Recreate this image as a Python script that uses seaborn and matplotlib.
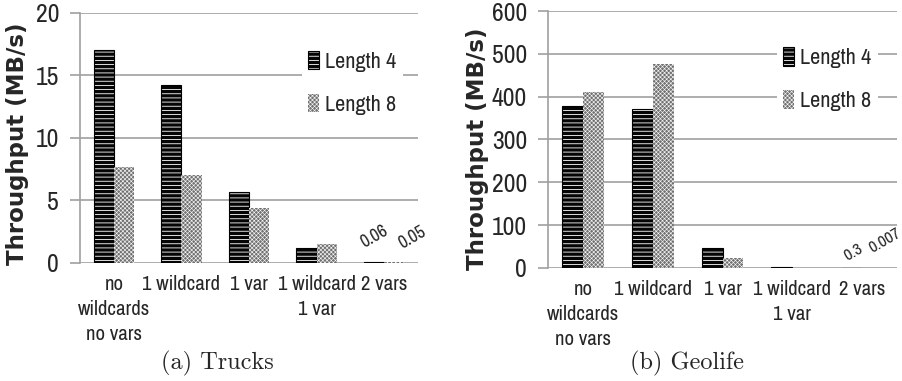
import matplotlib
matplotlib.use("Agg")
import matplotlib.pyplot as plt
from matplotlib import font_manager
from matplotlib.patches import Patch
from matplotlib.colors import to_rgba
import seaborn as sns
import pandas as pd

# ---- data -------------------------------------------------------------
categories = ["no\nwildcards\nno vars", "1 wildcard", "1 var", "1 wildcard\n1 var", "2 vars"]
series = ["Length 4", "Length 8"]

trucks_len4 = [17.0, 14.2, 5.7, 1.2, 0.06]
trucks_len8 = [7.7, 7.0, 4.4, 1.5, 0.05]

geolife_len4 = [378, 370, 46, 1.0, 0.3]
geolife_len8 = [410, 476, 23, 0.2, 0.007]

trucks_labels = {(4, 0): "0.06", (4, 1): "0.05"}
geolife_labels = {(4, 0): "0.3", (4, 1): "0.007"}

captions = ["(a) Trucks", "(b) Geolife"]
ylabel = "Throughput (MB/s)"
trucks_ticks = [0, 5, 10, 15, 20]
geolife_ticks = [0, 100, 200, 300, 400, 500, 600]

# ---- fonts ------------------------------------------------------------
sns.set_theme(style="white")

ttf = font_manager.fontManager.ttflist
narrow_family = None
narrow_stretch = "normal"
for f in ttf:
    if any(k in f.name for k in ("Narrow", "Condensed")):
        narrow_family = f.name
        break
if narrow_family is None:
    for f in ttf:
        if f.stretch in ("condensed", "semi-condensed", 300, 400) and \
                f.name in ("Noto Sans", "DejaVu Sans", "Open Sans", "Roboto"):
            narrow_family = f.name
            narrow_stretch = "condensed"
            break
if narrow_family is None:
    narrow_family = "Lato"
    SHRINK = 0.85
else:
    SHRINK = 1.0

plt.rcParams["font.family"] = [narrow_family, "DejaVu Sans"]
plt.rcParams["font.stretch"] = narrow_stretch

GRID = "#a0a0a0"
STYLES = [
    dict(face="#050505", hatch="----", hatch_color="white", edge="#000000", lw=0.8, hlw=0.6),
    dict(face="#707070", hatch="xxxxxxxx", hatch_color="#f4f4f4", edge="none", lw=0.0, hlw=0.45),
]


def style_patch(p, st):
    p.set_facecolor(st["face"])
    p.set_edgecolor(st["edge"])
    p.set_linewidth(st["lw"])
    p.set_hatch(st["hatch"])
    p._hatch_color = to_rgba(st["hatch_color"])
    p._hatch_linewidth = st["hlw"]


def frame(len4, len8):
    rows = []
    for c, a, b in zip(categories, len4, len8):
        rows.append({"category": c, "series": series[0], "value": a})
        rows.append({"category": c, "series": series[1], "value": b})
    return pd.DataFrame(rows)


def draw(ax, len4, len8, ticks, labels, label_dx, label_dy, legend_anchor, ylabel_xy,
         label_size=13):
    df = frame(len4, len8)
    sns.barplot(data=df, x="category", y="value", hue="series", order=categories,
                hue_order=series, width=0.6, ax=ax, legend=False,
                palette=["black", "white"], errorbar=None)
    for j, cont in enumerate(ax.containers):
        for p in cont.patches:
            style_patch(p, STYLES[j])
            p.set_zorder(3)
    # value labels on the tiniest bars
    for (i, j), txt in labels.items():
        p = ax.containers[j].patches[i]
        ax.annotate(txt, (p.get_x() + p.get_width() / 2, p.get_height()),
                    xytext=(label_dx[j], label_dy[j]), textcoords="offset points",
                    ha="center", va="bottom", rotation=30, fontsize=label_size * SHRINK,
                    zorder=5, annotation_clip=False)
    ax.set_ylim(ticks[0], ticks[-1])
    ax.set_yticks(ticks)
    ax.set_xlim(-0.5, len(categories) - 0.5)
    ax.yaxis.grid(True, color=GRID, linewidth=1.2, zorder=0)
    ax.set_axisbelow(True)
    for s in ["top", "right", "bottom"]:
        ax.spines[s].set_visible(False)
    ax.spines["left"].set_color(GRID)
    ax.spines["left"].set_linewidth(1.2)
    ax.tick_params(axis="y", which="both", left=True, length=7, width=1.2,
                   color=GRID, labelsize=18.5 * SHRINK, pad=8)
    ax.tick_params(axis="x", bottom=False, labelsize=15 * SHRINK, pad=3)
    for t in ax.get_xticklabels():
        t.set_linespacing(1.38)
    ax.set_xlabel("")
    ax.set_ylabel(ylabel, fontsize=16.5, fontweight="bold", family="DejaVu Sans")
    ax.yaxis.set_label_coords(*ylabel_xy)
    handles = []
    for st, name in zip(STYLES, series):
        h = Patch(facecolor=st["face"], edgecolor=st["hatch_color"], hatch=st["hatch"],
                  linewidth=0, label=name)
        handles.append(h)
    leg = ax.legend(handles=handles, loc="upper right", bbox_to_anchor=legend_anchor,
                    frameon=True, fontsize=16 * SHRINK, handlelength=0.5, handleheight=0.9,
                    handletextpad=0.25, labelspacing=1.0, borderpad=0.3,
                    borderaxespad=0)
    leg.get_frame().set_facecolor("white")
    leg.get_frame().set_edgecolor("none")
    leg.get_frame().set_alpha(1)
    leg.set_zorder(4)
    for h, st in zip(leg.legend_handles, STYLES):
        h._hatch_color = to_rgba(st["hatch_color"])
        h._hatch_linewidth = st["hlw"]
        if st["edge"] != "none":
            h.set_edgecolor(st["edge"])
            h._hatch_color = to_rgba(st["hatch_color"])
            h.set_linewidth(0.8)


fig = plt.figure(figsize=(9.02, 3.81), dpi=100)
ax1 = fig.add_axes([0.0887, 0.310, 0.3747, 0.656])
ax2 = fig.add_axes([0.6075, 0.297, 0.3870, 0.674])

draw(ax1, trucks_len4, trucks_len8, trucks_ticks, trucks_labels,
     label_dx=[0, 13], label_dy=[8, 8], legend_anchor=(0.955, 0.875),
     ylabel_xy=(-0.15, 0.478))
draw(ax2, geolife_len4, geolife_len8, geolife_ticks, geolife_labels,
     label_dx=[1, 9], label_dy=[3, 9], legend_anchor=(0.945, 0.885),
     ylabel_xy=(-0.17, 0.463), label_size=12)

for x, txt in zip([0.2406, 0.7616], captions):
    fig.text(x, 0.047, txt, ha="center", va="center", fontsize=17.5, family="cmr10")

fig.savefig("out.png", dpi=100)
